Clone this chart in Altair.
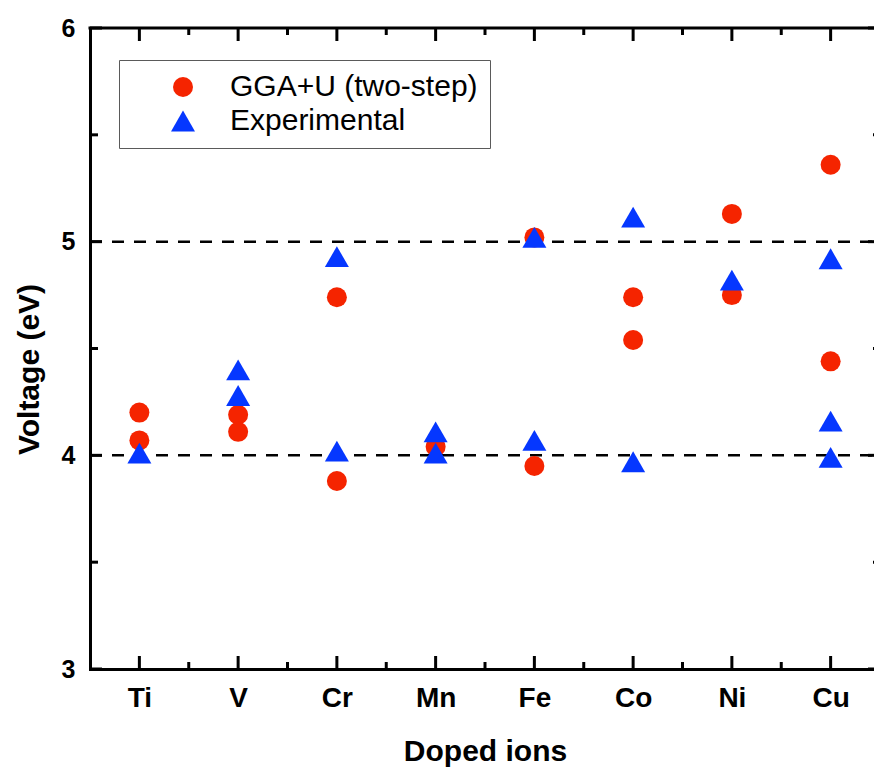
import altair as alt
import pandas as pd

# ---------------- data ----------------
ions = ["Ti", "V", "Cr", "Mn", "Fe", "Co", "Ni", "Cu"]

gga_ion = ["Ti", "Ti", "V", "V", "Cr", "Cr", "Mn", "Fe", "Fe", "Co", "Co", "Ni", "Ni", "Cu", "Cu"]
gga_v = [4.20, 4.07, 4.19, 4.11, 4.74, 3.88, 4.04, 5.02, 3.95, 4.74, 4.54, 5.13, 4.75, 5.36, 4.44]

exp_ion = ["Ti", "V", "V", "Cr", "Cr", "Mn", "Mn", "Fe", "Fe", "Co", "Co", "Ni", "Cu", "Cu", "Cu"]
exp_v = [4.01, 4.40, 4.28, 4.93, 4.02, 4.11, 4.01, 5.02, 4.07, 5.115, 3.97, 4.82, 4.92, 4.16, 3.99]

series_names = ["GGA+U (two-step)", "Experimental"]
series_colors = ["#F52400", "#0537FF"]
series_shapes = ["circle", "triangle-up"]
series_sizes = [400, 576]

ref_lines = [4, 5]
y_major = [3, 4, 5, 6]
y_minor = [3.5, 4.5, 5.5]
x_major = [1, 2, 3, 4, 5, 6, 7, 8]
x_minor = [1.5, 2.5, 3.5, 4.5, 5.5, 6.5, 7.5]

# ---------------- tables ----------------
rows = []
for ion, v in zip(gga_ion, gga_v):
    rows.append({"ion": ion, "pos": ions.index(ion) + 1, "voltage": v, "series": series_names[0]})
for ion, v in zip(exp_ion, exp_v):
    rows.append({"ion": ion, "pos": ions.index(ion) + 1, "voltage": v, "series": series_names[1]})
df = pd.DataFrame(rows)

W, H = 784, 641
FONT = "Liberation Sans"

xscale = alt.Scale(domain=[0.5, 8.4392], zero=False, nice=False)
yscale = alt.Scale(domain=[3, 6], zero=False, nice=False)

label_arr = "[" + ",".join("'" + s + "'" for s in ions) + "]"

x_axis = alt.Axis(
    values=x_major, labelExpr=label_arr + "[datum.value - 1]",
    ticks=False, grid=False, domainWidth=3, domainColor="black", domainCap="square",
    labelFont=FONT, labelFontWeight="bold", labelFontSize=28, labelPadding=15, labelColor="black",
    title="Doped ions", titleFont=FONT, titleFontWeight="bold", titleFontSize=30, titleColor="black",
    titleX=395, titleY=91, titleBaseline="alphabetic", titleAlign="center",
)
y_axis = alt.Axis(
    values=y_major, format="d",
    ticks=False, grid=False, domainWidth=3, domainColor="black", domainCap="square",
    labelFont=FONT, labelFontWeight="bold", labelFontSize=25, labelPadding=15, labelColor="black",
    title="Voltage (eV)", titleFont=FONT, titleFontWeight="bold", titleFontSize=30, titleColor="black",
    titleX=-52, titleY=341, titleBaseline="alphabetic", titleAlign="center", titleAngle=-90,
)

legend = alt.Legend(
    title=None, orient="none", legendX=29, legendY=32,
    strokeColor="#5a5a5a", fillColor="white", padding=12,
    symbolOffset=37, labelOffset=32, labelFont=FONT, labelFontSize=30, labelColor="black",
    labelLimit=500, rowPadding=4, symbolStrokeWidth=0,
)

points = alt.Chart(df).mark_point(filled=True, opacity=1, strokeWidth=0).encode(
    x=alt.X("pos:Q", scale=xscale, axis=x_axis),
    y=alt.Y("voltage:Q", scale=yscale, axis=y_axis),
    color=alt.Color("series:N", scale=alt.Scale(domain=series_names, range=series_colors), legend=legend),
    shape=alt.Shape("series:N", scale=alt.Scale(domain=series_names, range=series_shapes), legend=legend),
    size=alt.Size("series:N", scale=alt.Scale(domain=series_names, range=series_sizes), legend=legend),
    order=alt.Order("order:Q"),
).transform_calculate(order="datum.series == 'Experimental' ? 1 : 0")

dash = alt.Chart(pd.DataFrame({"voltage": ref_lines})).mark_rule(
    color="black", strokeWidth=2.5, strokeDash=[12, 10]
).encode(y=alt.Y("voltage:Q", scale=yscale, axis=y_axis), x=alt.value(0), x2=alt.value(W))

top_border = alt.Chart(pd.DataFrame({"voltage": [6]})).mark_rule(
    color="black", strokeWidth=3, strokeCap="square"
).encode(y=alt.Y("voltage:Q", scale=yscale, axis=y_axis), x=alt.value(0), x2=alt.value(W))

def xticks(vals, y0, y1):
    return alt.Chart(pd.DataFrame({"pos": vals})).mark_rule(color="black", strokeWidth=3).encode(
        x=alt.X("pos:Q", scale=xscale, axis=x_axis), y=alt.value(y0), y2=alt.value(y1))

def yticks(vals, x0, x1):
    return alt.Chart(pd.DataFrame({"voltage": vals})).mark_rule(color="black", strokeWidth=3).encode(
        y=alt.Y("voltage:Q", scale=yscale, axis=y_axis), x=alt.value(x0), x2=alt.value(x1))

ticks = [
    xticks(x_major, H, H - 13), xticks(x_minor, H, H - 7),
    xticks(x_major, 0, 13), xticks(x_minor, 0, 7),
    yticks(y_major, 0, 12), yticks(y_minor, 0, 8),
    yticks(y_major, 778, 784), yticks(y_minor, 783, 784),
]

chart = alt.layer(dash, top_border, *ticks, points).resolve_scale(
    color="shared", shape="shared", size="shared"
).properties(
    width=W, height=H,
    autosize=alt.AutoSizeParams(type="none"),
    padding={"left": 90, "top": 28, "right": 0, "bottom": 100},
    background="white",
).configure_view(stroke=None)

chart.save("out.html", embed_options={"renderer": "svg", "actions": False})
